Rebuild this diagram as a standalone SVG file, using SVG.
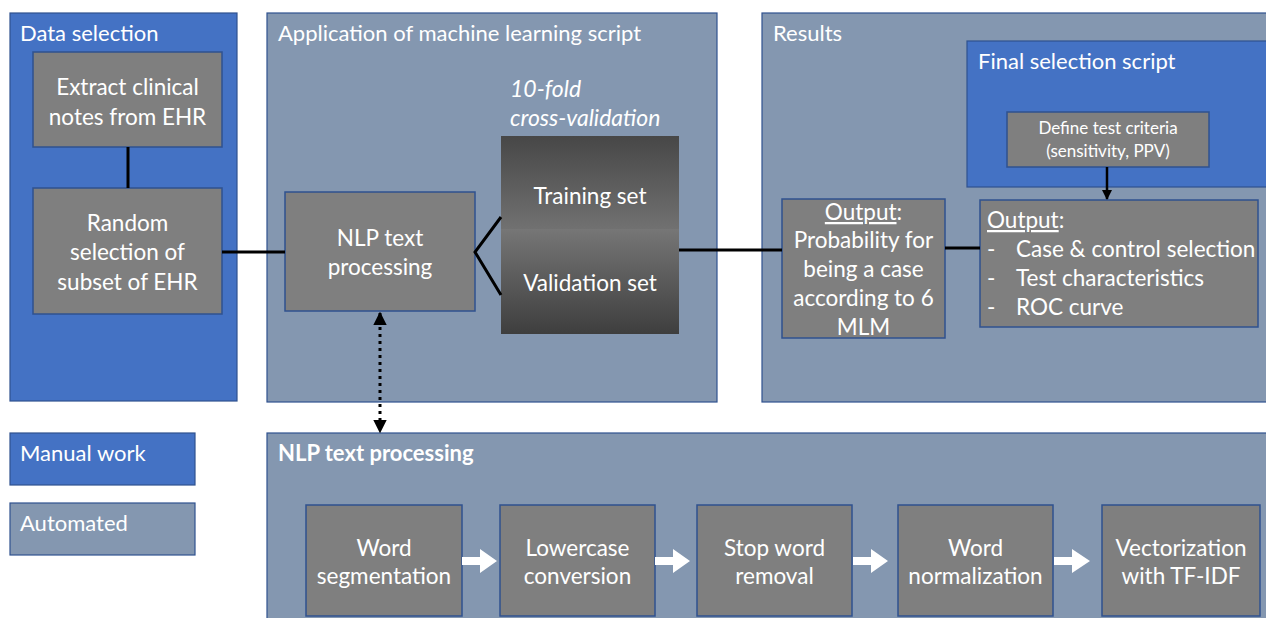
<svg xmlns="http://www.w3.org/2000/svg" width="1266" height="618" viewBox="0 0 1266 618">
  <defs>
    <linearGradient id="gTrain" x1="0" y1="0" x2="0" y2="1">
      <stop offset="0" stop-color="#474747"/>
      <stop offset="1" stop-color="#717171"/>
    </linearGradient>
    <linearGradient id="gVal" x1="0" y1="0" x2="0" y2="1">
      <stop offset="0" stop-color="#767676"/>
      <stop offset="1" stop-color="#3e3e3e"/>
    </linearGradient>
    <marker id="ah" viewBox="0 0 10 10" refX="9" refY="5" markerWidth="4" markerHeight="4" orient="auto-start-reverse" markerUnits="strokeWidth">
      <path d="M0,0 L10,5 L0,10 Z" fill="#000"/>
    </marker>
    <marker id="ahd" viewBox="0 0 10 10" refX="9" refY="5" markerWidth="4.5" markerHeight="4.5" orient="auto-start-reverse" markerUnits="strokeWidth">
      <path d="M0,0 L10,5 L0,10 Z" fill="#000"/>
    </marker>
  </defs>
  <style>
    .manual { fill: #4472C4; stroke: #2F528F; stroke-width: 1.2; }
    .auto { fill: #8497B0; stroke: #2F528F; stroke-width: 1.2; }
    .box { fill: #7F7F7F; stroke: #2F528F; stroke-width: 1.5; }
    text { font-family: Lato, "Liberation Sans", sans-serif; fill: #ffffff; }
    .t { font-size: 22.5px; }
    .c { text-anchor: middle; }
    .title { font-size: 22px; }
    .small { font-size: 17px; }
    .it { font-style: italic; font-size: 23px; }
    .b { font-weight: bold; }
    .wire { stroke: #000; stroke-width: 3; fill: none; }
    .step-arrow { fill: #ffffff; }
  </style>

  <rect width="1266" height="618" fill="#ffffff"/>

  <!-- Data selection panel -->
  <g id="panel-data-selection">
    <rect class="manual" x="10" y="13" width="227" height="388"/>
    <text class="title" x="20" y="41">Data selection</text>
  </g>

  <!-- Machine learning panel -->
  <g id="panel-ml">
    <rect class="auto" x="267" y="13" width="450" height="389"/>
    <text class="title" x="278" y="41">Application of machine learning script</text>
    <text class="it" x="510" y="97">10-fold</text>
    <text class="it" x="510" y="126">cross-validation</text>
  </g>

  <!-- Results panel -->
  <g id="panel-results">
    <rect class="auto" x="762" y="13" width="520" height="389"/>
    <text class="title" x="773" y="41">Results</text>
  </g>

  <g id="panel-final-selection">
    <rect class="manual" x="967" y="41" width="310" height="146"/>
    <text class="title" x="978" y="69">Final selection script</text>
  </g>

  <!-- Legend -->
  <g id="legend-manual">
    <rect class="manual" x="10" y="433" width="185" height="52"/>
    <text class="title" x="20" y="461">Manual work</text>
  </g>
  <g id="legend-automated">
    <rect class="auto" x="10" y="503" width="185" height="52"/>
    <text class="title" x="20" y="531">Automated</text>
  </g>

  <!-- NLP pipeline panel -->
  <g id="panel-nlp">
    <rect class="auto" x="267" y="433" width="1010" height="200"/>
    <text class="title b" x="278" y="461">NLP text processing</text>
  </g>

  <!-- Nodes -->
  <g id="extract-notes">
    <rect class="box" x="33" y="52" width="189" height="95"/>
    <text class="t c" x="127.5" y="95">Extract clinical</text>
    <text class="t c" x="127.5" y="125">notes from EHR</text>
  </g>
  <g id="random-selection">
    <rect class="box" x="33" y="188" width="189" height="126"/>
    <text class="t c" x="127.5" y="231">Random</text>
    <text class="t c" x="127.5" y="260">selection of</text>
    <text class="t c" x="127.5" y="290">subset of EHR</text>
  </g>
  <g id="nlp-text-processing">
    <rect class="box" x="285" y="192" width="190" height="119"/>
    <text class="t c" x="380" y="246">NLP text</text>
    <text class="t c" x="380" y="275">processing</text>
  </g>
  <g id="training-set">
    <rect x="501" y="136" width="178" height="93" fill="url(#gTrain)"/>
    <text class="t c" x="590" y="204">Training set</text>
  </g>
  <g id="validation-set">
    <rect x="501" y="229" width="178" height="105" fill="url(#gVal)"/>
    <text class="t c" x="590" y="291">Validation set</text>
  </g>
  <g id="define-criteria">
    <rect class="box" x="1007" y="112" width="202" height="55"/>
    <text class="small c" x="1108" y="134">Define test criteria</text>
    <text class="small c" x="1108" y="157">(sensitivity, PPV)</text>
  </g>
  <g id="output-probability">
    <rect class="box" x="782" y="199" width="163" height="139"/>
    <text class="t c" x="863.5" y="220"><tspan text-decoration="underline">Output</tspan>:</text>
    <text class="t c" x="863.5" y="248">Probability for</text>
    <text class="t c" x="863.5" y="277">being a case</text>
    <text class="t c" x="863.5" y="306">according to 6</text>
    <text class="t c" x="863.5" y="335">MLM</text>
  </g>
  <g id="output-final">
    <rect class="box" x="980" y="200" width="278" height="127"/>
    <text class="t" x="987" y="228"><tspan text-decoration="underline">Output</tspan>:</text>
    <text class="t" x="987" y="257">-</text>
    <text class="t" x="1016" y="257">Case &amp; control selection</text>
    <text class="t" x="987" y="286">-</text>
    <text class="t" x="1016" y="286">Test characteristics</text>
    <text class="t" x="987" y="315">-</text>
    <text class="t" x="1016" y="315">ROC curve</text>
  </g>

  <!-- Pipeline steps -->
  <g id="step-segmentation">
    <rect class="box" x="306" y="505" width="156" height="111"/>
    <text class="t c" x="384" y="556">Word</text>
    <text class="t c" x="384" y="584">segmentation</text>
  </g>
  <g id="step-lowercase">
    <rect class="box" x="500" y="505" width="155" height="111"/>
    <text class="t c" x="577.5" y="556">Lowercase</text>
    <text class="t c" x="577.5" y="584">conversion</text>
  </g>
  <g id="step-stopword">
    <rect class="box" x="697" y="505" width="155" height="111"/>
    <text class="t c" x="774.5" y="556">Stop word</text>
    <text class="t c" x="774.5" y="584">removal</text>
  </g>
  <g id="step-normalization">
    <rect class="box" x="898" y="505" width="155" height="111"/>
    <text class="t c" x="975.5" y="556">Word</text>
    <text class="t c" x="975.5" y="584">normalization</text>
  </g>
  <g id="step-vectorization">
    <rect class="box" x="1102" y="505" width="158" height="111"/>
    <text class="t c" x="1181" y="556">Vectorization</text>
    <text class="t c" x="1181" y="584">with TF-IDF</text>
  </g>

  <!-- Connectors -->
  <g id="connectors">
    <line class="wire" x1="128" y1="147" x2="128" y2="188"/>
    <line class="wire" x1="222" y1="252" x2="285" y2="252"/>
    <polyline class="wire" points="501,217 475,252 501,295"/>
    <line class="wire" x1="679" y1="250" x2="782" y2="250"/>
    <line class="wire" x1="945" y1="248" x2="980" y2="248"/>
    <line x1="1107" y1="167" x2="1107" y2="199" stroke="#000" stroke-width="2.5" marker-end="url(#ah)"/>
    <line x1="380" y1="313" x2="380" y2="432" stroke="#000" stroke-width="3" stroke-dasharray="3 4" marker-start="url(#ahd)" marker-end="url(#ahd)"/>
    <path class="step-arrow" d="M462,557 H480 V549 L497,561 L480,573 V565 H462 Z"/>
    <path class="step-arrow" d="M655,557 H673 V549 L690,561 L673,573 V565 H655 Z"/>
    <path class="step-arrow" d="M853,557 H871 V549 L888,561 L871,573 V565 H853 Z"/>
    <path class="step-arrow" d="M1054,557 H1072 V549 L1090,561 L1072,573 V565 H1054 Z"/>
  </g>
</svg>
